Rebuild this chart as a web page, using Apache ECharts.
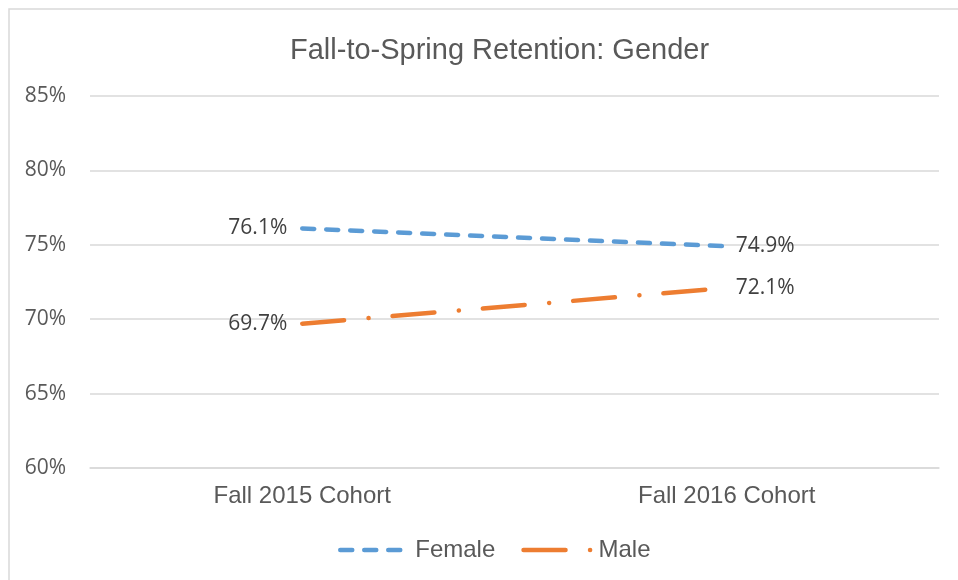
<!DOCTYPE html>
<html>
<head>
<meta charset="utf-8">
<title>Fall-to-Spring Retention: Gender</title>
<script src="https://cdn.jsdelivr.net/npm/echarts@6/dist/echarts.min.js"></script>
<style>
	html,body{margin:0;padding:0;background:#fff;}
	#chart{width:958px;height:580px;}
</style>
</head>
<body>
<div id="chart"></div>
<script>
// data
var cohorts = ['Fall 2015 Cohort', 'Fall 2016 Cohort']
var female = [76.1, 74.9]
var male = [69.7, 72.1]
var yTicks = [60, 65, 70, 75, 80, 85]

var chart = echarts.init(document.getElementById('chart'))

// first point label on the left, last on the right
function withLabels(values){
	return values.map(function(v, i){
		return {
			value: v,
			label: {position: i === 0 ? 'left' : 'right', distance: i === 0 ? 15 : 9}
		}
	})
}

var labelStyle = {
	show: true,
	fontFamily: 'Open Sans',
	fontSize: 21,
	color: '#404040',
	formatter: function(p){ return p.value.toFixed(1) + '%' }
}

var option = {
	backgroundColor: '#fff',
	animation: false,
	graphic: [{
		// chart area border (only top/left visible in the picture)
		type: 'rect',
		shape: {x: 9, y: 9, width: 1200, height: 1200},
		style: {fill: 'none', stroke: '#d9d9d9', lineWidth: 1.5},
		silent: true
	}],
	title: {
		text: 'Fall-to-Spring Retention: Gender',
		left: 285,
		top: 31,
		textStyle: {fontFamily: 'Liberation Sans', fontSize: 29, fontWeight: 'normal', color: '#595959'}
	},
	legend: {
		data: ['Female', 'Male'],
		left: 333,
		top: 533,
		itemWidth: 70,
		itemHeight: 14,
		itemGap: 26,
		itemStyle: {opacity: 0},
		lineStyle: {width: 4.5, cap: 'round'},
		textStyle: {fontFamily: 'Liberation Sans', fontSize: 24, color: '#595959'}
	},
	grid: {left: 90, right: 19, top: 96, bottom: 112, containLabel: false},
	xAxis: {
		type: 'category',
		data: cohorts,
		boundaryGap: true,
		axisLine: {show: true, lineStyle: {color: '#d9d9d9', width: 1.5}},
		axisTick: {show: false},
		axisLabel: {fontFamily: 'Liberation Sans', fontSize: 24, color: '#595959', margin: 16}
	},
	yAxis: {
		type: 'value',
		min: yTicks[0],
		max: yTicks[yTicks.length - 1],
		interval: 5,
		axisLine: {show: false},
		axisTick: {show: false},
		splitLine: {lineStyle: {color: '#d9d9d9', width: 1.5}},
		axisLabel: {
			fontFamily: 'Open Sans', fontSize: 21, color: '#595959', margin: 24,
			formatter: function(v){ return v + '%' }
		}
	},
	series: [
		{
			name: 'Female',
			type: 'line',
			data: withLabels(female),
			showSymbol: true,
			symbol: 'circle',
			symbolSize: 0,
			color: '#5B9BD5',
			lineStyle: {color: '#5B9BD5', width: 4.5, type: [12, 12], cap: 'round'},
			label: labelStyle
		},
		{
			name: 'Male',
			type: 'line',
			data: withLabels(male),
			showSymbol: true,
			symbol: 'circle',
			symbolSize: 0,
			color: '#ED7D31',
			lineStyle: {color: '#ED7D31', width: 4.5, type: [42, 24.5, 0.1, 24], cap: 'round'},
			label: labelStyle
		}
	]
}

chart.setOption(option)
</script>
</body>
</html>
